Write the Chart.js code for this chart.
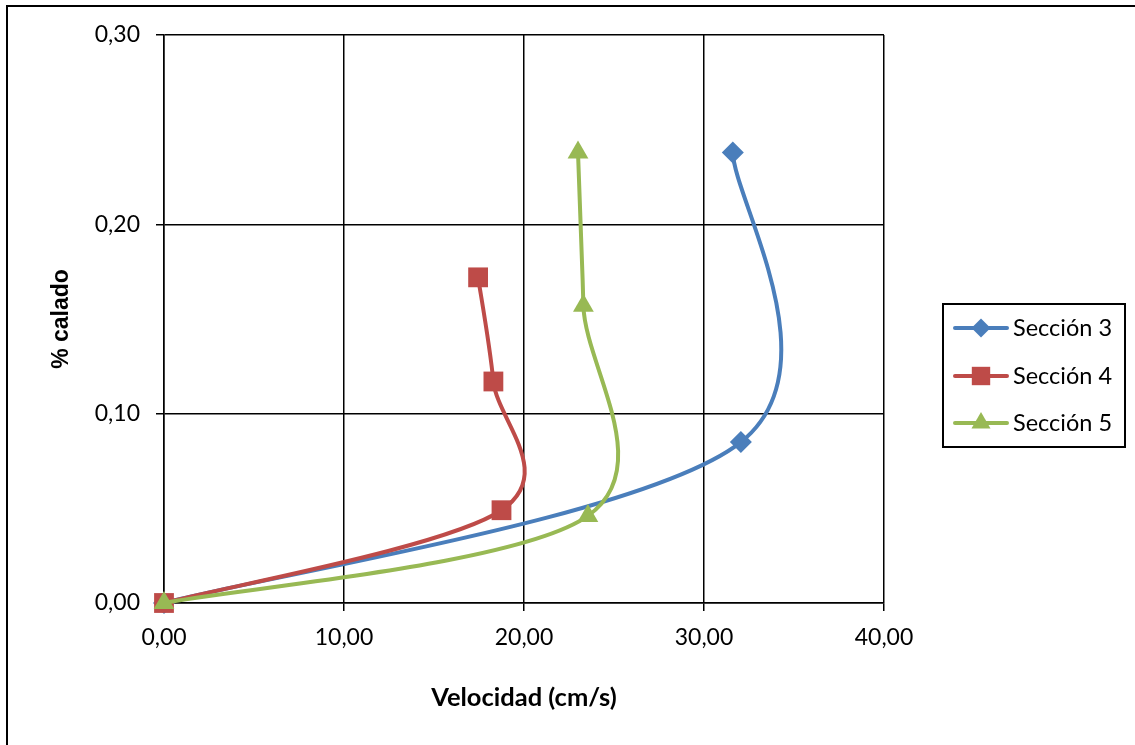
<!DOCTYPE html>
<html>
<head>
<meta charset="utf-8">
<script src="https://cdn.jsdelivr.net/npm/chart.js@4"></script>
<style>
html,body{margin:0;padding:0;background:#fff;}
#wrap{width:1135px;height:745px;position:relative;}
</style>
</head>
<body>
<div id="wrap"><canvas id="c" width="1135" height="745"></canvas></div>
<script>
const seriesNames = ["Sección 3", "Sección 4", "Sección 5"];
const s3x = [0, 32.05, 31.6];
const s3y = [0, 0.085, 0.238];
const s4x = [0, 18.75, 18.3, 17.45];
const s4y = [0, 0.049, 0.117, 0.172];
const s5x = [0, 23.55, 23.3, 23.0];
const s5y = [0, 0.046, 0.157, 0.238];
const xTicks = [0, 10, 20, 30, 40];
const yTicks = [0, 0.10, 0.20, 0.30];
const xTitle = "Velocidad (cm/s)";
const yTitle = "% calado";

const colors = ["#4A7EBB", "#BE4B48", "#98B954"];
const styles = ["rectRot", "rect", "triangle"];
const radii = [11, 14, 12];
const legendRadii = [9.5, 13, 11];

function pts(xs, ys){ return xs.map((x,i)=>({x:x, y:ys[i]})); }
const fmt = v => Number(v).toFixed(2).replace('.', ',');
const FONT = "Lato";

const datasets = [[s3x,s3y],[s4x,s4y],[s5x,s5y]].map((d,i)=>({
  label: seriesNames[i],
  data: pts(d[0], d[1]),
  borderColor: colors[i],
  backgroundColor: colors[i],
  borderWidth: 4,
  pointStyle: styles[i],
  pointRadius: radii[i],
  pointHoverRadius: radii[i],
  pointBorderWidth: 0,
  showLine: true,
  tension: 0.5,
  clip: false,
  order: 3 - i
}));

// Excel-like smoothing: uniform Catmull-Rom control points (1/6 of neighbour span)
const smooth = {
  id: 'smooth',
  beforeDatasetDraw(chart, args){
    const meta = args.meta;
    const line = meta.dataset;
    if (!line) return;
    line.updateControlPoints(chart.chartArea);
    const p = line.points;
    for (let i = 0; i < p.length; i++) {
      const prev = p[i-1] || p[i];
      const next = p[i+1] || p[i];
      const dx = (next.x - prev.x) / 6;
      const dy = (next.y - prev.y) / 6;
      p[i].cp1x = p[i].x - dx; p[i].cp1y = p[i].y - dy;
      p[i].cp2x = p[i].x + dx; p[i].cp2y = p[i].y + dy;
    }
    line._path = undefined;
  }
};

const frame = {
  id: 'frame',
  afterDraw(chart){
    const ctx = chart.ctx;
    ctx.save();
    ctx.strokeStyle = '#000';
    ctx.lineWidth = 2;
    ctx.strokeRect(7, 6, 1140, 760);
    // legend box
    ctx.strokeRect(943, 304, 182, 143);
    const rows = [328, 376, 423];
    chart.data.datasets.forEach((ds, i) => {
      const y = rows[i];
      ctx.strokeStyle = ds.borderColor;
      ctx.lineWidth = 4;
      ctx.lineCap = 'round';
      ctx.beginPath(); ctx.moveTo(955, y); ctx.lineTo(1007, y); ctx.stroke();
      ctx.fillStyle = ds.backgroundColor;
      Chart.helpers.drawPoint(ctx, {pointStyle: ds.pointStyle, radius: legendRadii[i], borderWidth: 0}, 981, y);
      ctx.fillStyle = '#000';
      ctx.font = '23.5px ' + FONT;
      ctx.textBaseline = 'middle';
      ctx.textAlign = 'left';
      ctx.fillText(ds.label, 1013, y);
    });
    ctx.restore();
  }
};

new Chart(document.getElementById('c'), {
  type: 'scatter',
  data: { datasets },
  plugins: [smooth, frame],
  options: {
    responsive: false,
    animation: false,
    events: [],
    layout: { padding: { left: 0, top: 35, right: 251, bottom: 0 } },
    plugins: { legend: { display: false }, tooltip: { enabled: false } },
    scales: {
      x: {
        type: 'linear', min: 0, max: 40,
        afterBuildTicks: s => { s.ticks = xTicks.map(v => ({value: v})); },
        afterFit: s => { s.height = 142; },
        grid: { color: '#000', lineWidth: 1.5, tickLength: 8, drawTicks: true },
        border: { color: '#000', width: 1.5 },
        ticks: { color: '#000', font: { family: FONT, size: 23 }, padding: 13, callback: v => fmt(v) },
        title: { display: true, text: xTitle, color: '#000', font: { family: FONT, size: 25.5, weight: 'bold' }, padding: { top: 0, bottom: 32 } }
      },
      y: {
        type: 'linear', min: 0, max: 0.30,
        afterBuildTicks: s => { s.ticks = yTicks.map(v => ({value: v})); },
        afterFit: s => { s.width = 164; },
        grid: { color: '#000', lineWidth: 1.5, tickLength: 8, drawTicks: true },
        border: { color: '#000', width: 1.5 },
        ticks: { color: '#000', font: { family: FONT, size: 23 }, padding: 16, callback: v => fmt(v) },
        title: { display: true, text: yTitle, color: '#000', font: { family: 'Liberation Sans', size: 23, weight: 'bold' }, padding: { top: 48, bottom: 0 } }
      }
    }
  }
});
</script>
</body>
</html>
